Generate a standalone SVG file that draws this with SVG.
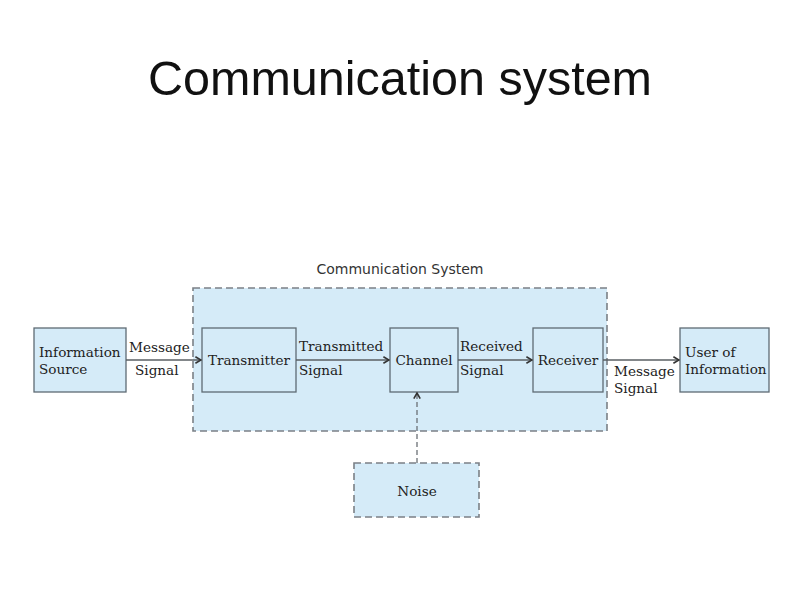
<svg xmlns="http://www.w3.org/2000/svg" width="800" height="600" viewBox="0 0 800 600">
<style>
.box{fill:#d5ebf8;stroke:#5f6b73;stroke-width:1.3}
.dash{fill:#d5ebf8;stroke:#7b8086;stroke-width:1.6;stroke-dasharray:7,4}
.t{font-family:"DejaVu Serif","Liberation Serif",serif;font-size:13.6px;fill:#222}
.c{text-anchor:middle}
.ln{stroke:#5a5f63;stroke-width:1.3;fill:none}
</style>
<defs>
<marker id="ah" viewBox="0 0 10 10" refX="9" refY="5" markerWidth="8" markerHeight="8" markerUnits="userSpaceOnUse" orient="auto">
<path d="M2,1 L9,5 L2,9" fill="none" stroke="#333" stroke-width="2"/>
</marker>
</defs>
<rect width="800" height="600" fill="#fff"/>
<text x="400" y="95" text-anchor="middle" font-family="'Liberation Sans',Arial,sans-serif" font-size="48.5" fill="#111">Communication system</text>
<g id="system">
<rect class="dash" x="193" y="288" width="414" height="143"/>
<text x="400" y="274" text-anchor="middle" font-family="'DejaVu Sans',sans-serif" font-size="14" fill="#333">Communication System</text>
</g>
<g id="source"><rect class="box" x="34" y="328" width="92" height="64"/>
<text class="t" x="39" y="357">Information</text><text class="t" x="39" y="374">Source</text></g>
<g id="transmitter"><rect class="box" x="202" y="328" width="94" height="64"/>
<text class="t c" x="249" y="365">Transmitter</text></g>
<g id="channel"><rect class="box" x="390" y="328" width="68" height="64"/>
<text class="t c" x="424" y="365">Channel</text></g>
<g id="receiver"><rect class="box" x="533" y="328" width="70" height="64"/>
<text class="t c" x="568" y="365">Receiver</text></g>
<g id="user"><rect class="box" x="680" y="328" width="89" height="64"/>
<text class="t" x="685" y="357">User of</text><text class="t" x="685" y="374">Information</text></g>
<g id="noise"><rect class="dash" x="354" y="463" width="125" height="54"/>
<text class="t c" x="417" y="496">Noise</text></g>
<g id="connectors">
<line class="ln" x1="126" y1="360" x2="201" y2="360" marker-end="url(#ah)"/>
<line class="ln" x1="296" y1="360" x2="389" y2="360" marker-end="url(#ah)"/>
<line class="ln" x1="458" y1="360" x2="532" y2="360" marker-end="url(#ah)"/>
<line class="ln" x1="603" y1="360" x2="679" y2="360" marker-end="url(#ah)"/>
<line x1="417" y1="463" x2="417" y2="393" stroke="#6b7076" stroke-width="1.3" stroke-dasharray="5,3" marker-end="url(#ah)"/>
<text class="t" x="129" y="352">Message</text><text class="t" x="135" y="375">Signal</text>
<text class="t" x="299" y="351">Transmitted</text><text class="t" x="299" y="375">Signal</text>
<text class="t" x="460" y="351">Received</text><text class="t" x="460" y="375">Signal</text>
<text class="t" x="614" y="376">Message</text><text class="t" x="614" y="393">Signal</text>
</g>
</svg>
